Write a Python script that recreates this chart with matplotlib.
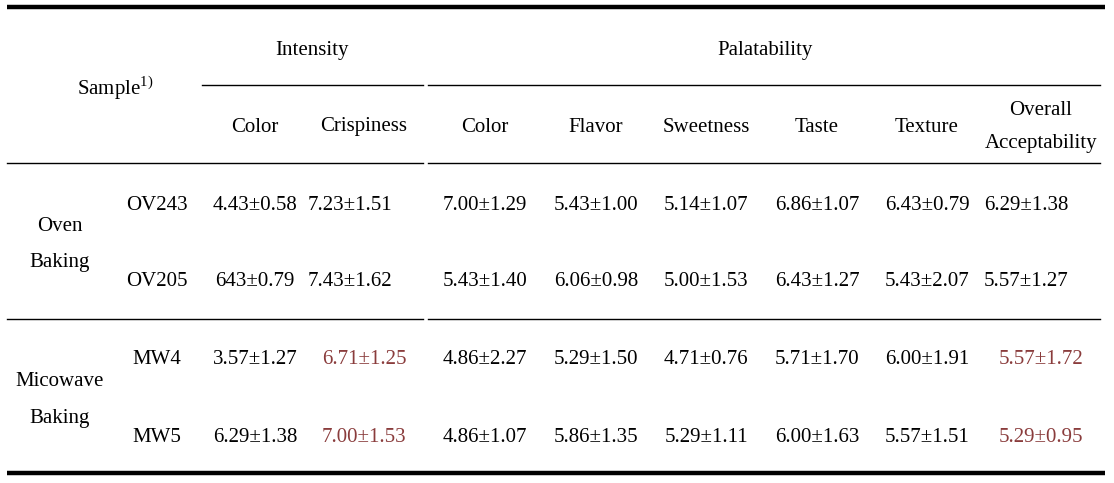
import matplotlib.pyplot as plt

# table content
sub_headers = ["Color", "Crispiness", "Color", "Flavor", "Sweetness",
               "Taste", "Texture", "Overall\nAcceptability"]
groups = ["Oven\nBaking", "Micowave\nBaking"]
samples = ["OV243", "OV205", "MW4", "MW5"]
values = [
    ["4.43±0.58", "7.23±1.51", "7.00±1.29", "5.43±1.00", "5.14±1.07", "6.86±1.07", "6.43±0.79", "6.29±1.38"],
    ["643±0.79", "7.43±1.62", "5.43±1.40", "6.06±0.98", "5.00±1.53", "6.43±1.27", "5.43±2.07", "5.57±1.27"],
    ["3.57±1.27", "6.71±1.25", "4.86±2.27", "5.29±1.50", "4.71±0.76", "5.71±1.70", "6.00±1.91", "5.57±1.72"],
    ["6.29±1.38", "7.00±1.53", "4.86±1.07", "5.86±1.35", "5.29±1.11", "6.00±1.63", "5.57±1.51", "5.29±0.95"],
]
# cells printed in red in the source
red_cells = {(2, 1), (2, 7), (3, 1), (3, 7)}

FONT = "Liberation Serif"
FS = 15
RED = "#8a3c3c"

plt.rcParams["mathtext.fontset"] = "custom"
plt.rcParams["mathtext.rm"] = FONT

fig = plt.figure(figsize=(11.14, 4.83), dpi=100)
ax = fig.add_axes([0, 0, 1, 1])
ax.set_xlim(0, 1114)
ax.set_ylim(483, 0)
ax.axis("off")

# rules
ax.plot([7, 1105], [7, 7], color="black", lw=3.2, solid_capstyle="butt")
ax.plot([7, 1105], [473, 473], color="black", lw=3.2, solid_capstyle="butt")
ax.plot([202, 423], [85, 85], color="black", lw=1.0)
ax.plot([428, 1100], [85, 85], color="black", lw=1.0)
for y in (163, 319):
    ax.plot([7, 423], [y, y], color="black", lw=1.0)
    ax.plot([428, 1100], [y, y], color="black", lw=1.0)

kw = dict(family=FONT, fontsize=FS, ha="center", va="center")

# headers
ax.text(115, 88, r"Sample$^{\mathrm{1)}}$", **kw)
ax.text(312, 50, "Intensity", **kw)
ax.text(765, 50, "Palatability", **kw)
head_x = [255, 364, 485, 596, 706, 817, 927, 1041]
for x, h in zip(head_x, sub_headers):
    ax.text(x, 127, h, linespacing=1.95, **kw)

# row labels
row_y = [205, 282, 360, 438]
for i, g in enumerate(groups):
    ax.text(60, (row_y[2 * i] + row_y[2 * i + 1]) / 2 + 1, g, linespacing=2.25, **kw)
for y, s in zip(row_y, samples):
    ax.text(157, y, s, **kw)

# values (black entries in two columns sit a little left of the header)
black_x = [255, 350, 485, 596, 706, 817, 927, 1026]
for r, row in enumerate(values):
    for c, v in enumerate(row):
        if (r, c) in red_cells:
            ax.text(head_x[c], row_y[r], v, color=RED, **kw)
        else:
            ax.text(black_x[c], row_y[r], v, color="black", **kw)

fig.savefig("out.png", dpi=100)
